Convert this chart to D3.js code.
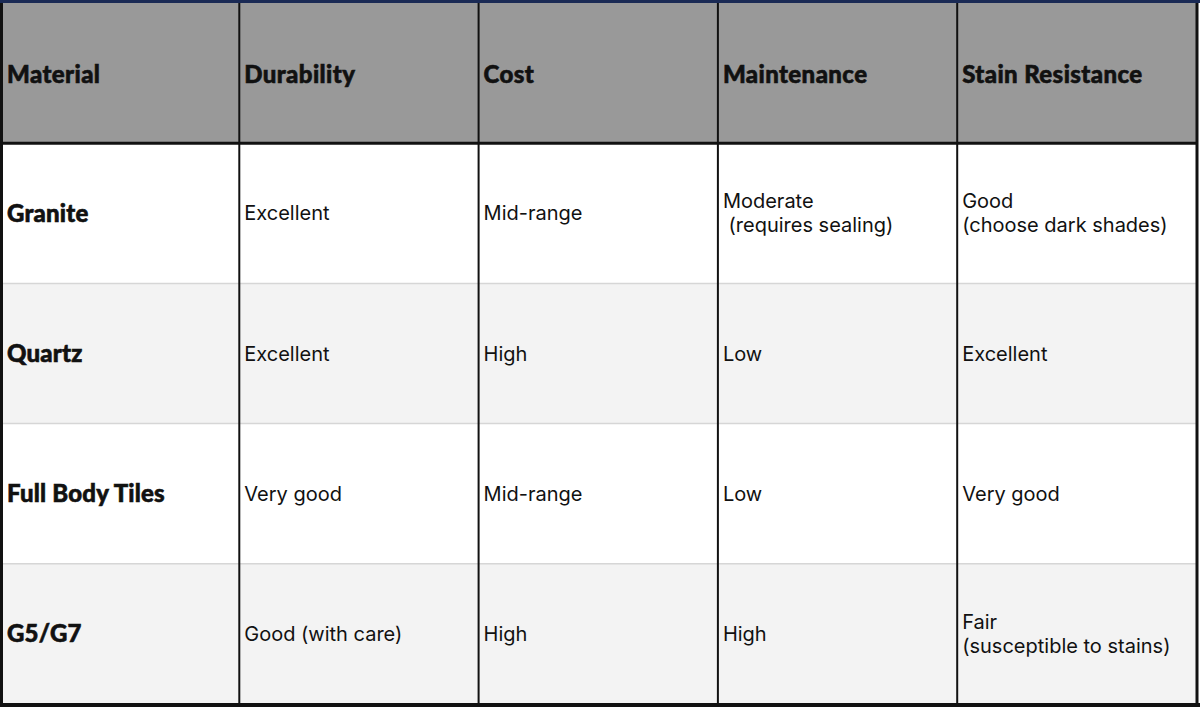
<!DOCTYPE html>
<html><head><meta charset="utf-8">
<script src="https://cdn.jsdelivr.net/npm/d3@7"></script>
<style>html,body{margin:0;padding:0;background:#fff;overflow:hidden}</style>
</head><body>
<svg id="chart" width="1200" height="707"></svg>
<script>
const columns = ["Material", "Durability", "Cost", "Maintenance", "Stain Resistance"];
const materials = ["Granite", "Quartz", "Full Body Tiles", "G5/G7"];
const durability = ["Excellent", "Excellent", "Very good", "Good (with care)"];
const cost = ["Mid-range", "High", "Mid-range", "High"];
const maintenance = ["Moderate\n (requires sealing)", "Low", "Low", "High"];
const stainResistance = ["Good\n(choose dark shades)", "Excellent", "Very good", "Fair\n(susceptible to stains)"];

const rows = materials.map((m, i) => [m, durability[i], cost[i], maintenance[i], stainResistance[i]]);

const svg = d3.select("#chart");
const x = d3.scaleBand().domain(d3.range(columns.length)).range([0, 1196.5]);
const y = d3.scaleBand().domain(d3.range(rows.length + 1)).range([3, 704]);

svg.append("rect").attr("x", 0).attr("y", y(0)).attr("width", 1197).attr("height", y.bandwidth()).attr("fill", "#999999");
svg.selectAll("rect.row").data(rows).join("rect").attr("class", "row")
  .attr("x", 0).attr("y", (d, i) => y(i + 1)).attr("width", 1197).attr("height", y.bandwidth())
  .attr("fill", (d, i) => i % 2 ? "#f3f3f3" : "#ffffff");
svg.selectAll("line.rsep").data(d3.range(2, rows.length + 1)).join("line").attr("class", "rsep")
  .attr("x1", 0).attr("x2", 1197).attr("y1", d => y(d)).attr("y2", d => y(d))
  .attr("stroke", "#d6d6d6").attr("stroke-width", 1.5);
svg.append("line").attr("x1", 0).attr("x2", 1197).attr("y1", y(1)).attr("y2", y(1)).attr("stroke", "#111").attr("stroke-width", 3);
svg.selectAll("line.csep").data(d3.range(1, columns.length)).join("line").attr("class", "csep")
  .attr("x1", d => x(d)).attr("x2", d => x(d)).attr("y1", y(0)).attr("y2", 704)
  .attr("stroke", "#111").attr("stroke-width", 2);
svg.append("line").attr("x1", 1.5).attr("x2", 1.5).attr("y1", 0).attr("y2", 707).attr("stroke", "#111").attr("stroke-width", 3);
svg.append("line").attr("x1", 1197).attr("x2", 1197).attr("y1", 0).attr("y2", 707).attr("stroke", "#111").attr("stroke-width", 3);
svg.append("line").attr("x1", 0).attr("x2", 1200).attr("y1", 705).attr("y2", 705).attr("stroke", "#111").attr("stroke-width", 4);
svg.append("line").attr("x1", 0).attr("x2", 1200).attr("y1", 1.5).attr("y2", 1.5).attr("stroke", "#1a2a55").attr("stroke-width", 3);

const boldFont = "Lato, sans-serif";
const bodyFont = "Inter, sans-serif";

svg.selectAll("text.head").data(columns).join("text").attr("class", "head")
  .attr("x", (d, i) => x(i) + (i === 0 ? 7 : 5)).attr("y", y(0) + y.bandwidth() / 2 + 1)
  .attr("dy", "0.35em").attr("font-family", boldFont).attr("font-weight", 900)
  .attr("font-size", 24).attr("letter-spacing", 0.4).attr("fill", "#111")
  .attr("stroke", "#111").attr("stroke-width", 0.6).text(d => d);

rows.forEach((r, ri) => {
  r.forEach((cell, ci) => {
    const lines = cell.split("\n");
    const cy = y(ri + 1) + y.bandwidth() / 2;
    const lh = 24;
    const t = svg.append("text")
      .attr("font-family", ci === 0 ? boldFont : bodyFont)
      .attr("font-weight", ci === 0 ? 900 : 400)
      .attr("font-size", ci === 0 ? 24 : 20)
      .attr("fill", "#111")
      .attr("xml:space", "preserve");
    if (ci === 0) t.attr("stroke", "#111").attr("stroke-width", 0.6).attr("letter-spacing", 0.2);
    lines.forEach((ln, li) => {
      t.append("tspan").attr("x", x(ci) + (ci === 0 ? 7 : 5))
        .attr("y", cy + (li - (lines.length - 1) / 2) * lh)
        .attr("dy", "0.35em").text(ln);
    });
  });
});
</script>
</body></html>
